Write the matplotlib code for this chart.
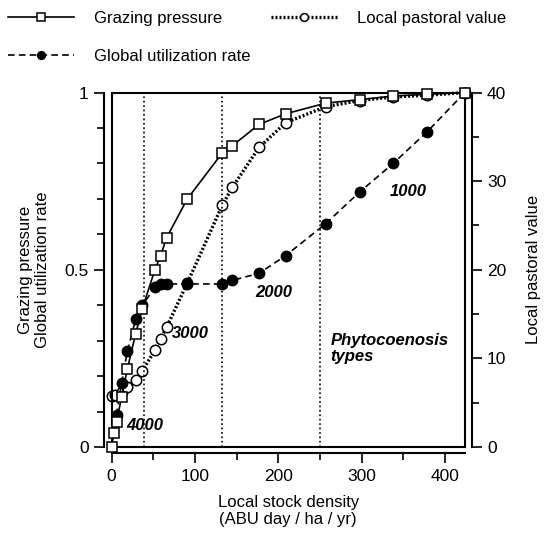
import matplotlib
matplotlib.use('Agg')
import matplotlib.pyplot as plt
from matplotlib.patches import Rectangle
from matplotlib.ticker import MultipleLocator

plt.rcParams['font.family'] = ['Liberation Sans', 'DejaVu Sans']
plt.rcParams['font.size'] = 12

# local stock density (ABU day / ha / yr)
gp_x = [0, 3, 6, 12, 19, 29, 37, 52, 59, 66, 91, 133, 145, 177, 209, 257, 298, 338, 379, 424]
gp_y = [0, 0.04, 0.07, 0.14, 0.22, 0.32, 0.39, 0.50, 0.54, 0.59, 0.70, 0.83, 0.85, 0.91,
        0.94, 0.97, 0.98, 0.99, 0.995, 1.0]

gur_x = [6, 12, 19, 29, 37, 52, 59, 66, 91, 133, 145, 177, 209, 257, 298, 338, 379, 424]
gur_y = [0.09, 0.18, 0.27, 0.36, 0.40, 0.45, 0.46, 0.46, 0.46, 0.46, 0.47, 0.49, 0.54,
         0.63, 0.72, 0.80, 0.89, 1.0]

lpv_x = [0, 4, 12, 19, 29, 37, 52, 59, 66, 91, 133, 145, 177, 209, 257, 298, 338, 379, 424]
lpv_y = [5.7, 5.9, 6.2, 6.8, 7.6, 8.6, 10.9, 12.2, 13.5, 18.5, 27.3, 29.3, 33.8, 36.6,
         38.4, 39.1, 39.5, 39.7, 40]

# phytocoenosis type boundaries and labels
bounds = [39, 132, 250]
type_labels = ['4000', '3000', '2000', '1000']
type_pos = [(40, 0.062), (95, 0.32), (195, 0.437), (356, 0.72)]


def main():
    fig = plt.figure(figsize=(5.45, 5.37), dpi=100)
    ax = fig.add_axes([0.2046, 0.1676, 0.6484, 0.6601])
    ax2 = ax.twinx()

    ax.set_xlim(0, 424)
    ax.set_ylim(0, 1)
    ax2.set_ylim(0, 40)

    for b in bounds:
        ax.axvline(b, color='black', linestyle=':', linewidth=1.2, zorder=1)

    # plot box
    ax.add_patch(Rectangle((0, 0), 1, 1, transform=ax.transAxes, fill=False,
                           edgecolor='black', linewidth=1.5, zorder=5, clip_on=False))

    l_lpv, = ax2.plot(lpv_x, lpv_y, color='black', linestyle=(0, (0.6, 0.6)), linewidth=2.4,
                      marker='o', markersize=7.5, markerfacecolor='white',
                      markeredgecolor='black', markeredgewidth=1.1, clip_on=False, zorder=3)
    l_gur, = ax.plot(gur_x, gur_y, color='black', linestyle=(0, (4, 2.5)), linewidth=1.2,
                     marker='o', markersize=7.5, markerfacecolor='black',
                     clip_on=False, zorder=4)
    l_gp, = ax.plot(gp_x, gp_y, color='black', linestyle='-', linewidth=1.2,
                    marker='s', markersize=7.5, markerfacecolor='white',
                    markeredgecolor='black', markeredgewidth=1.1, clip_on=False, zorder=6)
    ax.set_zorder(ax2.get_zorder() + 1)
    ax.patch.set_visible(False)

    for lab, (x, y) in zip(type_labels, type_pos):
        ax.text(x, y, lab, ha='center', va='center', fontsize=12,
                fontweight='bold', fontstyle='italic')
    ax.text(263, 0.279, 'Phytocoenosis\ntypes', ha='left', va='center', fontsize=12,
            fontweight='bold', fontstyle='italic', linespacing=1.1)

    # spines
    for a in (ax, ax2):
        a.spines['top'].set_visible(False)
    ax.spines['right'].set_visible(False)
    ax2.spines['left'].set_visible(False)
    ax2.spines['bottom'].set_visible(False)
    ax.spines['left'].set_position(('outward', 5.5))
    ax.spines['bottom'].set_position(('outward', 4.5))
    ax2.spines['right'].set_position(('outward', 5))
    for s in (ax.spines['left'], ax.spines['bottom'], ax2.spines['right']):
        s.set_linewidth(1.5)

    ax.set_xticks([0, 100, 200, 300, 400])
    ax.xaxis.set_minor_locator(MultipleLocator(50))
    ax.set_yticks([0, 0.5, 1])
    ax.set_yticklabels(['0', '0.5', '1'])
    ax.yaxis.set_minor_locator(MultipleLocator(0.1))
    ax2.set_yticks([0, 10, 20, 30, 40])
    ax2.yaxis.set_minor_locator(MultipleLocator(5))
    for a in (ax, ax2):
        a.tick_params(which='major', length=7, width=1.2, labelsize=12.5, pad=4)
        a.tick_params(which='minor', length=5, width=1.2)

    ax.set_xlabel('Local stock density\n(ABU day / ha / yr)', fontsize=12, labelpad=8)
    ax.set_ylabel('Grazing pressure\nGlobal utilization rate', fontsize=12, labelpad=10)
    ax2.set_ylabel('Local pastoral value', fontsize=12, labelpad=14)

    fig.legend([l_gp, l_gur, l_lpv],
               ['Grazing pressure', 'Global utilization rate', 'Local pastoral value'],
               loc='upper left', bbox_to_anchor=(0.014, 0.98), ncol=2, frameon=False,
               fontsize=12, handlelength=4.0, handletextpad=1.2, columnspacing=1.2,
               labelspacing=1.4, borderpad=0, borderaxespad=0, markerscale=0.75)

    fig.savefig('out.png', dpi=100)


if __name__ == '__main__':
    main()
